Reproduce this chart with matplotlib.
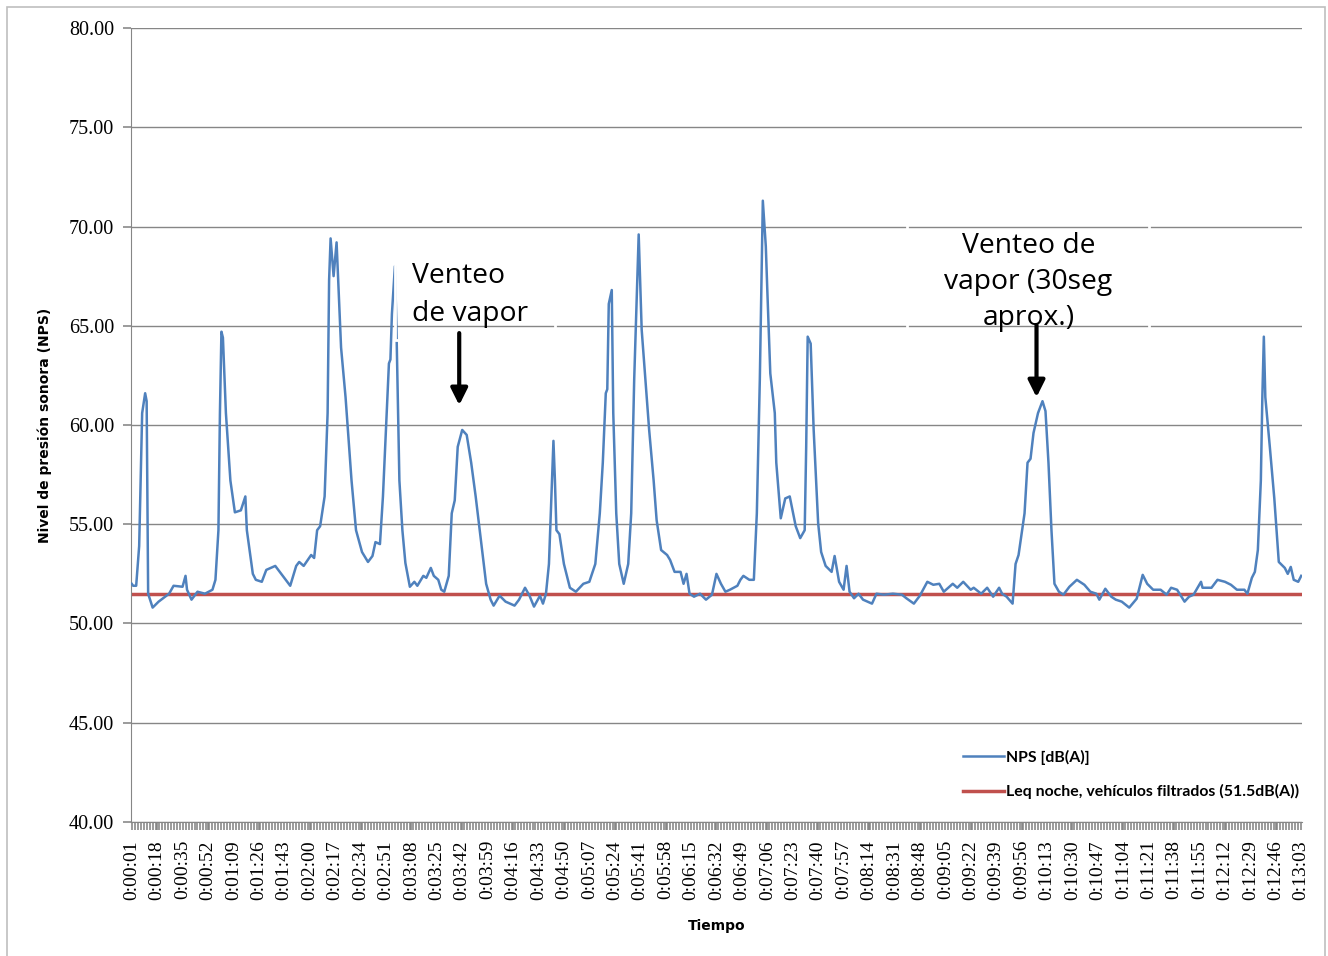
import matplotlib.pyplot as plt
import matplotlib.patches as patches
import numpy as np

# seconds from start
segundos = [1, 2, 4, 6, 8, 10, 11, 12, 15, 19, 26, 29, 35, 37, 38, 41, 45, 50, 55, 57,
            59, 60, 61, 62, 64, 67, 70, 74, 77, 78, 82, 84, 88, 91, 97, 102, 107, 111, 113, 116,
            121, 123, 125, 127, 130, 132, 133, 134, 136, 138, 141, 144, 148, 151, 155, 159, 162, 164, 167, 169,
            171, 173, 174, 175, 177, 178, 180, 182, 184, 187, 190, 192, 196, 198, 201, 203, 206, 208, 210, 213,
            215, 217, 219, 222, 225, 228, 231, 235, 238, 241, 243, 247, 251, 257, 260, 264, 267, 270, 274, 276,
            278, 280, 282, 283, 284, 285, 287, 290, 294, 298, 303, 307, 311, 314, 316, 318, 319, 320, 322, 323,
            325, 327, 330, 333, 335, 337, 340, 342, 345, 347, 350, 352, 355, 359, 361, 364, 368, 370, 372, 374,
            377, 381, 383, 385, 389, 392, 395, 398, 401, 406, 408, 410, 414, 417, 419, 421, 423, 425, 426, 428,
            431, 432, 435, 438, 441, 445, 448, 451, 452, 453, 455, 457, 460, 462, 465, 469, 471, 474, 477, 479,
            481, 484, 487, 490, 496, 499, 504, 510, 516, 519, 524, 528, 533, 537, 541, 544, 550, 553, 557, 562,
            564, 569, 573, 577, 581, 583, 586, 590, 592, 594, 598, 600, 602, 604, 607, 610, 612, 614, 616, 618,
            621, 624, 628, 633, 638, 642, 646, 648, 652, 656, 659, 663, 668, 673, 677, 680, 684, 689, 693, 696,
            700, 705, 708, 711, 716, 717, 723, 727, 732, 736, 740, 745, 747, 750, 752, 754, 756, 757, 758, 759,
            762, 765, 768, 772, 774, 776, 778, 781, 783]

nps = [52.0, 51.9, 51.9, 53.9, 60.6, 61.6, 61.2, 51.5, 50.8, 51.1, 51.5, 51.9, 51.85, 52.4, 51.7, 51.2, 51.6, 51.5, 51.7, 52.2,
       54.7, 60.6, 64.7, 64.4, 60.6, 57.2, 55.6, 55.7, 56.4, 54.7, 52.5, 52.2, 52.1, 52.7, 52.9, 52.4, 51.9, 52.9, 53.1, 52.9,
       53.45, 53.3, 54.7, 54.9, 56.4, 60.6, 67.3, 69.4, 67.5, 69.2, 63.9, 61.4, 57.2, 54.7, 53.6, 53.1, 53.4, 54.1, 54.0, 56.4,
       59.7, 63.1, 63.3, 65.6, 68.0, 65.0, 57.2, 54.7, 53.05, 51.85, 52.1, 51.9, 52.4, 52.3, 52.8, 52.4, 52.2, 51.7, 51.6, 52.4,
       55.55, 56.2, 58.9, 59.75, 59.5, 58.1, 56.4, 53.9, 52.0, 51.2, 50.9, 51.4, 51.1, 50.9, 51.2, 51.8, 51.4, 50.85, 51.4, 51.0,
       51.5, 53.0, 57.2, 59.2, 57.2, 54.7, 54.5, 53.0, 51.8, 51.6, 52.0, 52.1, 53.0, 55.55, 58.1, 61.6, 61.8, 66.1, 66.8, 60.6,
       55.55, 53.0, 52.0, 53.0, 55.55, 62.3, 69.6, 64.8, 61.8, 59.75, 57.2, 55.2, 53.7, 53.45, 53.2, 52.6, 52.6, 52.0, 52.5, 51.5,
       51.35, 51.5, 51.35, 51.2, 51.45, 52.5, 52.0, 51.6, 51.7, 51.9, 52.2, 52.4, 52.2, 52.2, 55.55, 62.3, 71.3, 69.0, 66.8, 62.6,
       60.6, 58.1, 55.3, 56.3, 56.4, 54.9, 54.3, 54.7, 58.9, 64.45, 64.1, 59.75, 55.05, 53.6, 52.9, 52.6, 53.4, 52.1, 51.7, 52.9,
       51.6, 51.27, 51.5, 51.2, 51.0, 51.5, 51.45, 51.5, 51.45, 51.27, 51.0, 51.4, 52.1, 51.95, 52.0, 51.6, 52.0, 51.8, 52.1, 51.7,
       51.8, 51.5, 51.8, 51.35, 51.8, 51.5, 51.35, 51.0, 53.0, 53.45, 55.55, 58.1, 58.3, 59.6, 60.6, 61.2, 60.7, 58.1, 54.7, 52.0,
       51.6, 51.45, 51.85, 52.2, 51.95, 51.6, 51.5, 51.2, 51.75, 51.35, 51.2, 51.1, 50.8, 51.25, 52.45, 52.0, 51.7, 51.7, 51.45, 51.8,
       51.7, 51.1, 51.35, 51.45, 52.1, 51.8, 51.8, 52.2, 52.1, 51.95, 51.7, 51.7, 51.5, 52.3, 52.6, 53.7, 57.2, 61.4, 64.45, 61.4,
       58.9, 56.3, 53.1, 52.8, 52.5, 52.85, 52.2, 52.1, 52.4]

leq = 51.5
n_seg = 783

def hms(s):
    return '%d:%02d:%02d' % (s // 3600, (s % 3600) // 60, s % 60)

fig = plt.figure(figsize=(13.28, 9.56), dpi=100)
ax = fig.add_axes([0.0986, 0.1402, 0.8818, 0.8305])

# thin grey frame around the chart area
fig.patches.append(patches.Rectangle((0.0053, -0.01), 0.9924, 1.0027, transform=fig.transFigure,
                                     fill=False, edgecolor='#BFBFBF', lw=1.2))

ax.plot(segundos, nps, color='#4F81BD', lw=1.8, label='NPS [dB(A)]', zorder=3)
ax.plot([1, n_seg], [leq, leq], color='#C0504D', lw=2.5,
        label='Leq noche, vehículos filtrados (51.5dB(A))', zorder=2)

ax.set_xlim(0.5, n_seg + 0.5)
ax.set_ylim(40, 80)
ax.set_yticks(np.arange(40, 80.1, 5))
ax.set_yticklabels(['%.2f' % v for v in np.arange(40, 80.1, 5)], fontfamily='Liberation Serif', fontsize=14.5)
xt = list(range(1, n_seg + 1, 17))
ax.set_xticks(xt)
ax.set_xticklabels([hms(s) for s in xt], rotation=90, fontfamily='Liberation Serif', fontsize=14)
ax.set_xticks(range(1, n_seg + 1, 2), minor=True)
ax.tick_params(axis='both', which='both', color='#808080', length=6, width=1.1)
ax.tick_params(axis='y', pad=6)
ax.tick_params(axis='x', pad=7)

ax.grid(axis='y', color='#868686', lw=1)
ax.set_axisbelow(True)
for side in ['top', 'right']:
    ax.spines[side].set_visible(False)
ax.spines['left'].set_color('#868686')
ax.spines['bottom'].set_color('#868686')

ax.set_ylabel('Nivel de presión sonora (NPS)', fontsize=10, fontweight='bold', labelpad=12)
ax.set_xlabel('Tiempo', fontsize=10, fontweight='bold', labelpad=14)

leg = ax.legend(loc='center left', bbox_to_anchor=(0.7037, 0.0598), frameon=False,
                handlelength=2.6, handletextpad=0.15, labelspacing=1.2, borderpad=0,
                prop={'family': 'Lato', 'size': 11.4, 'weight': 'bold'})

# annotations
ax.text(188.6, 66.55, 'Venteo\nde vapor', fontfamily='Open Sans', fontsize=20.3,
        ha='left', va='center', linespacing=1.5, zorder=5)
ax.text(600.7, 67.2, 'Venteo de\nvapor (30seg\naprox.)', fontfamily='Open Sans', fontsize=20.3,
        ha='center', va='center', multialignment='center', linespacing=1.4, zorder=5)
ax.annotate('', xy=(220, 61.0), xytext=(220, 64.63),
            arrowprops=dict(arrowstyle='-|>', color='black', lw=3, mutation_scale=25,
                            shrinkA=0, shrinkB=0), zorder=5)
ax.annotate('', xy=(606, 61.4), xytext=(606, 65.04),
            arrowprops=dict(arrowstyle='-|>', color='black', lw=3, mutation_scale=25,
                            shrinkA=0, shrinkB=0), zorder=5)

# white outlines of the original text boxes
ax.add_patch(patches.Rectangle((177.2, 64.28), 106.6, 4.5, fill=False, edgecolor='white', lw=2, zorder=4))
ax.add_patch(patches.Rectangle((519.7, 64.0), 161.5, 6.6, fill=False, edgecolor='white', lw=2, zorder=4))

fig.savefig('out.png', dpi=100)
